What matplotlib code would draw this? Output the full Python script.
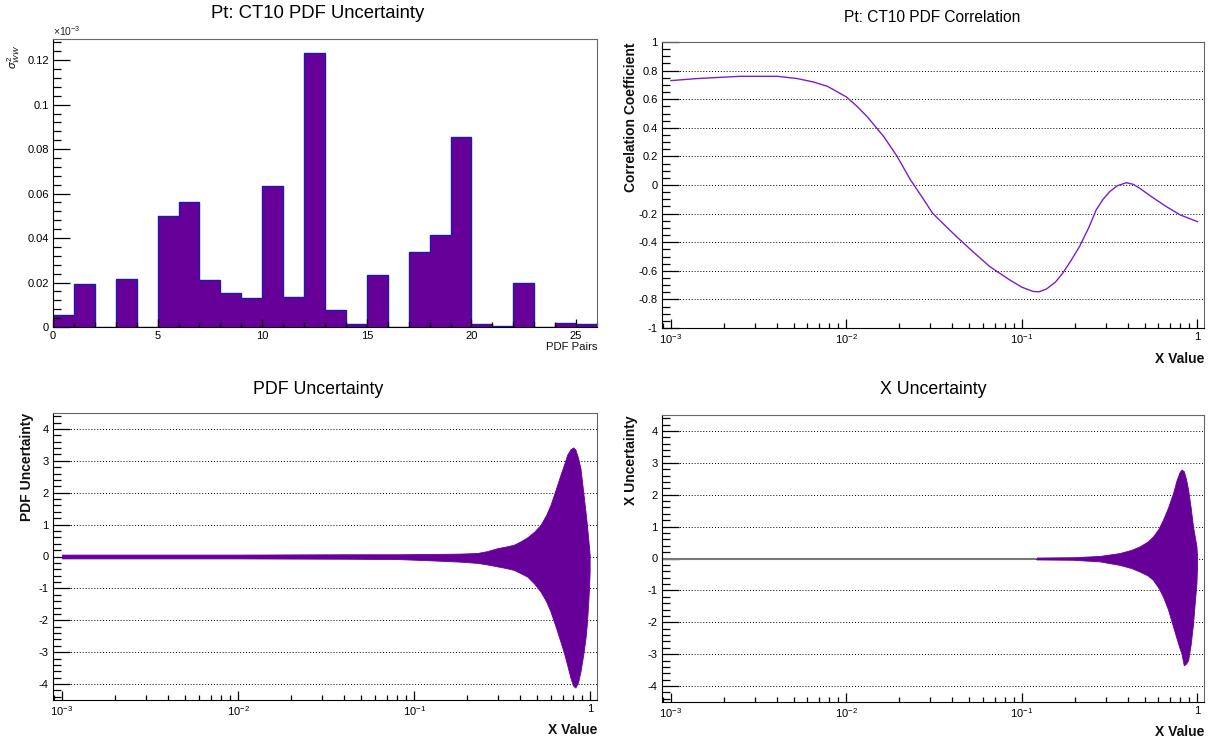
import numpy as np
import matplotlib
matplotlib.use("Agg")
import matplotlib.pyplot as plt
from matplotlib.ticker import MultipleLocator, FixedLocator, FuncFormatter, LogLocator, NullFormatter

plt.rcParams["font.family"] = ["Liberation Sans", "DejaVu Sans"]
plt.rcParams["mathtext.fontset"] = "custom"
plt.rcParams["mathtext.rm"] = "Liberation Sans"
plt.rcParams["mathtext.it"] = "Liberation Sans:italic"
plt.rcParams["mathtext.bf"] = "Liberation Sans:bold"

# ---- per-pair PDF uncertainty (x 1e-3), 26 eigenvector pairs ----
pair_edges = np.arange(0, 27)
pair_sigma2 = [0.0052, 0.0192, 0.0, 0.0216, 0.0, 0.0501, 0.0563, 0.0210, 0.0155, 0.0131,
               0.0632, 0.0137, 0.1230, 0.0075, 0.0015, 0.0234, 0.0, 0.0338, 0.0413, 0.0853,
               0.0015, 0.0005, 0.0197, 0.0, 0.0020, 0.0015]

# ---- correlation coefficient vs x ----
corr_x = [0.001, 0.0014, 0.00246, 0.00406, 0.00527, 0.0065, 0.0078, 0.01, 0.0115, 0.01315,
          0.01636, 0.0195, 0.0232, 0.027, 0.031, 0.0423, 0.053, 0.0655, 0.085, 0.1,
          0.1156, 0.125, 0.1377, 0.155, 0.171, 0.19, 0.213, 0.24, 0.265, 0.29,
          0.316, 0.35, 0.393, 0.43, 0.469, 0.56, 0.665, 0.8, 1.0]
corr_y = [0.73, 0.744, 0.76, 0.76, 0.744, 0.72, 0.69, 0.616, 0.55, 0.477,
          0.337, 0.198, 0.035, -0.085, -0.198, -0.36, -0.47, -0.57, -0.663, -0.715,
          -0.744, -0.747, -0.728, -0.68, -0.616, -0.53, -0.43, -0.3, -0.174, -0.1,
          -0.047, -0.005, 0.016, 0.005, -0.023, -0.09, -0.151, -0.21, -0.256]

# ---- PDF uncertainty band envelope ----
pdf_x = [0.001, 0.01, 0.04, 0.08, 0.124, 0.18, 0.228, 0.26, 0.296, 0.33, 0.368, 0.4,
         0.438, 0.48, 0.521, 0.56, 0.594, 0.635, 0.676, 0.71, 0.738, 0.77, 0.798, 0.822,
         0.85, 0.878, 0.909, 0.938, 0.955, 0.97, 0.982, 0.99]
pdf_hi = [0.06, 0.06, 0.07, 0.07, 0.08, 0.09, 0.11, 0.17, 0.26, 0.31, 0.37, 0.47,
          0.6, 0.78, 0.99, 1.3, 1.62, 2.1, 2.56, 2.9, 3.19, 3.36, 3.42, 3.35,
          3.1, 2.77, 2.05, 1.4, 1.0, 0.6, 0.3, 0.05]
pdf_lo = [-0.06, -0.06, -0.07, -0.08, -0.12, -0.16, -0.2, -0.25, -0.31, -0.36, -0.42, -0.52,
          -0.63, -0.85, -1.1, -1.4, -1.73, -2.2, -2.67, -3.05, -3.4, -3.8, -4.05, -4.11,
          -3.95, -3.61, -3.1, -2.56, -2.1, -1.52, -1.0, -0.47]

# ---- X uncertainty band envelope ----
xu_x = [0.121, 0.195, 0.277, 0.36, 0.42, 0.469, 0.52, 0.558, 0.6, 0.637, 0.68, 0.727,
        0.76, 0.79, 0.811, 0.836, 0.86, 0.885, 0.915, 0.944, 0.965, 0.987, 0.995]
xu_hi = [0.03, 0.04, 0.08, 0.17, 0.27, 0.38, 0.53, 0.69, 0.93, 1.22, 1.6, 2.06,
         2.45, 2.7, 2.79, 2.74, 2.5, 2.16, 1.6, 1.0, 0.7, 0.38, 0.1]
xu_lo = [-0.03, -0.04, -0.09, -0.2, -0.3, -0.41, -0.53, -0.67, -0.92, -1.2, -1.6, -2.14,
         -2.5, -2.8, -2.98, -3.35, -3.3, -3.19, -2.7, -2.04, -1.4, -0.78, -0.2]

PURPLE = "#660099"
LINE = "#7a1fc8"
W, H = 1210, 739
XLIM = (8.9e-4, 1.09)


def axes_px(left, top, right, bottom):
    return fig.add_axes([left / W, 1 - bottom / H, (right - left) / W, (bottom - top) / H])


def num_label(v, pos):
    v = round(v, 6)
    return "0" if v == 0 else f"{v:g}"


def style_frame(ax):
    for s in ("top", "right"):
        ax.spines[s].set_color("#666666")
    for s in ("left", "bottom"):
        ax.spines[s].set_color("black")
    ax.tick_params(which="both", direction="in", top=False, right=False,
                   labelsize=8, pad=3, width=0.9)


def log_x(ax):
    ax.set_xscale("log")
    ax.set_xlim(*XLIM)
    ax.xaxis.set_major_locator(FixedLocator([1e-3, 1e-2, 1e-1, 1]))
    ax.xaxis.set_minor_locator(LogLocator(base=10, subs=np.arange(2, 10), numticks=20))
    ax.xaxis.set_minor_formatter(NullFormatter())
    ax.xaxis.set_major_formatter(FuncFormatter(
        lambda v, p: "1" if abs(v - 1) < 1e-9 else r"$10^{%d}$" % round(np.log10(v))))
    ax.tick_params(axis="x", which="major", length=6.5)
    ax.tick_params(axis="x", which="minor", length=3.6)
    ax.tick_params(axis="y", which="major", length=12)
    ax.tick_params(axis="y", which="minor", length=6)
    ax.yaxis.set_major_formatter(FuncFormatter(num_label))


def ylabel_top(ax, text, x_px, ax_left, ax_w):
    ax.text((x_px - ax_left) / ax_w, 1.0, text, transform=ax.transAxes, rotation=90,
            ha="center", va="top", fontsize=10, fontweight="bold", color="#111111")


def xlabel_right(ax, text, y_px, ax_bottom, ax_h, bold=True, size=10):
    ax.text(1.0, -(y_px - ax_bottom) / ax_h, text, transform=ax.transAxes,
            ha="right", va="center", fontsize=size,
            fontweight="bold" if bold else "normal", color="#111111")


fig = plt.figure(figsize=(W / 100, H / 100), dpi=100)

# ---- top left: histogram of sigma^2 per PDF pair ----
ax1 = axes_px(53, 39, 597, 327)
ax1.stairs(pair_sigma2, pair_edges, fill=True, color=PURPLE, lw=0)
ax1.stairs(pair_sigma2, pair_edges, color="#1c1ca8", lw=1.0)
ax1.set_xlim(0, 26)
ax1.set_ylim(0, 0.1295)
style_frame(ax1)
ax1.xaxis.set_major_locator(MultipleLocator(5))
ax1.xaxis.set_minor_locator(MultipleLocator(1))
ax1.yaxis.set_major_locator(MultipleLocator(0.02))
ax1.yaxis.set_minor_locator(MultipleLocator(0.004))
ax1.yaxis.set_major_formatter(FuncFormatter(num_label))
ax1.tick_params(axis="x", which="major", length=6)
ax1.tick_params(axis="x", which="minor", length=3.5)
ax1.tick_params(axis="y", which="major", length=12)
ax1.tick_params(axis="y", which="minor", length=6)
ax1.text(0.0, 1.005, r"$\times10^{-3}$", transform=ax1.transAxes, ha="left", va="bottom",
         fontsize=7.5, color="#222222")
ax1.text((14 - 53) / 544, 1 - 6 / 288, r"$\sigma^{2}_{WW}$", transform=ax1.transAxes,
         rotation=90, ha="center", va="top", fontsize=8)
xlabel_right(ax1, "PDF Pairs", 347, 327, 288, bold=False, size=8.2)
fig.text(318 / W, 1 - 14 / H, "Pt: CT10 PDF Uncertainty", ha="center", va="center", fontsize=13.3)

# ---- top right: correlation coefficient ----
ax2 = axes_px(662, 42, 1204, 328)
ax2.plot(corr_x, corr_y, color=LINE, lw=1.0)
log_x(ax2)
ax2.set_ylim(-1, 1)
ax2.yaxis.set_major_locator(MultipleLocator(0.2))
ax2.yaxis.set_minor_locator(MultipleLocator(0.05))
ax2.grid(axis="y", which="major", color="black", linestyle=(0, (1, 2)), lw=0.7)
style_frame(ax2)
ylabel_top(ax2, "Correlation Coefficient", 631, 662, 542)
xlabel_right(ax2, "X Value", 359, 328, 286)
fig.text(932 / W, 1 - 18 / H, "Pt: CT10 PDF Correlation", ha="center", va="center", fontsize=11.2)

# ---- bottom left: PDF uncertainty band ----
ax3 = axes_px(53, 413, 597, 700)
ax3.fill_between(pdf_x, pdf_lo, pdf_hi, color=PURPLE, lw=0.6, edgecolor=PURPLE)
log_x(ax3)
ax3.set_ylim(-4.5, 4.5)
ax3.yaxis.set_major_locator(MultipleLocator(1))
ax3.yaxis.set_minor_locator(MultipleLocator(0.2))
ax3.grid(axis="y", which="major", color="black", linestyle=(0, (1, 2)), lw=0.7)
ax3.set_axisbelow(True)
style_frame(ax3)
ylabel_top(ax3, "PDF Uncertainty", 27, 53, 544)
xlabel_right(ax3, "X Value", 730, 700, 287)
fig.text(318 / W, 1 - 390 / H, "PDF Uncertainty", ha="center", va="center", fontsize=12.8)

# ---- bottom right: X uncertainty band ----
ax4 = axes_px(662, 415, 1204, 702)
ax4.hlines(0, XLIM[0], xu_x[0], color="#777777", lw=1.5)
ax4.fill_between(xu_x, xu_lo, xu_hi, color=PURPLE, lw=0.6, edgecolor=PURPLE)
log_x(ax4)
ax4.set_ylim(-4.5, 4.5)
ax4.yaxis.set_major_locator(MultipleLocator(1))
ax4.yaxis.set_minor_locator(MultipleLocator(0.2))
ax4.grid(axis="y", which="major", color="black", linestyle=(0, (1, 2)), lw=0.7)
ax4.set_axisbelow(True)
style_frame(ax4)
ylabel_top(ax4, "X Uncertainty", 631, 662, 542)
xlabel_right(ax4, "X Value", 732, 702, 287)
fig.text(933 / W, 1 - 390 / H, "X Uncertainty", ha="center", va="center", fontsize=12.8)

fig.savefig("out.png", dpi=100, facecolor="white")
